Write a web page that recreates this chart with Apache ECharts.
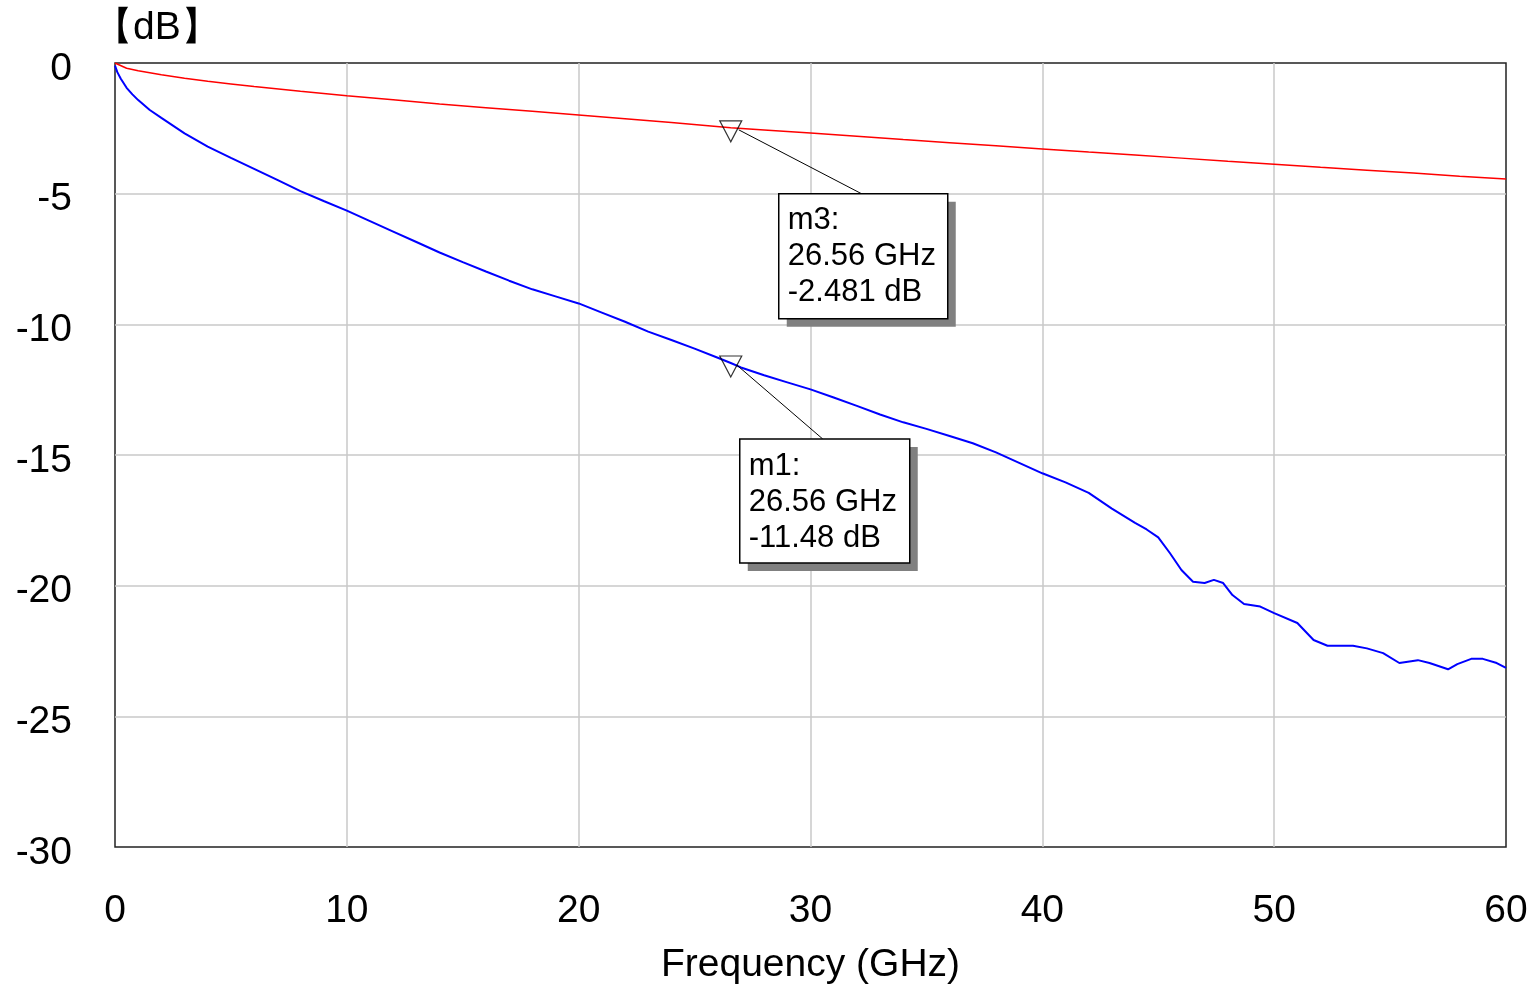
<!DOCTYPE html>
<html>
<head>
<meta charset="utf-8">
<script src="https://cdn.jsdelivr.net/npm/echarts@6/dist/echarts.min.js"></script>
<style>
html,body{margin:0;padding:0;background:#fff;}
#chart{width:1534px;height:985px;}
</style>
</head>
<body>
<div id="chart"></div>
<script>
// ---- data ----
const xTicks = [0, 10, 20, 30, 40, 50, 60];
const yTicks = [-30, -25, -20, -15, -10, -5, 0];

const redFreq = [0, 0.5, 1, 2, 3, 4, 5, 6, 8, 10, 12, 14, 16, 18, 20, 22, 24, 26.56, 28, 30, 32, 34, 36, 38, 40, 42, 44, 46, 48, 50, 52, 54, 56, 58, 60];
const redDb   = [0, -0.2, -0.3, -0.45, -0.58, -0.7, -0.8, -0.9, -1.08, -1.25, -1.41, -1.57, -1.71, -1.85, -1.99, -2.13, -2.28, -2.481, -2.56, -2.68, -2.8, -2.93, -3.05, -3.17, -3.29, -3.41, -3.52, -3.64, -3.76, -3.87, -3.99, -4.1, -4.21, -4.33, -4.44];

const blueFreq = [0, 0.1, 0.25, 0.5, 0.75, 1, 1.5, 2, 3, 4, 5, 6, 7, 8, 9, 10, 11, 12, 13, 14, 15, 16, 17, 18, 19, 20, 21, 22, 23, 24, 25, 26, 26.56, 27, 28, 29, 30, 31, 32, 33, 34, 35, 36, 37, 38, 39, 40, 41, 42, 43, 44, 44.5, 45, 45.5, 46, 46.5, 47, 47.4, 47.8, 48.2, 48.7, 49.4, 50, 51, 51.7, 52.3, 53.4, 54, 54.7, 55.4, 56.2, 56.7, 57.5, 57.9, 58.5, 59, 59.6, 60];
const blueDb   = [-0.1, -0.35, -0.6, -0.95, -1.2, -1.42, -1.8, -2.1, -2.69, -3.2, -3.63, -4.05, -4.47, -4.9, -5.28, -5.65, -6.05, -6.45, -6.85, -7.25, -7.62, -7.98, -8.33, -8.66, -8.93, -9.2, -9.55, -9.9, -10.28, -10.6, -10.93, -11.28, -11.48, -11.65, -11.95, -12.22, -12.49, -12.8, -13.12, -13.45, -13.75, -14.0, -14.27, -14.55, -14.9, -15.3, -15.7, -16.05, -16.45, -17.05, -17.6, -17.85, -18.15, -18.75, -19.4, -19.85, -19.9, -19.78, -19.9, -20.36, -20.7, -20.8, -21.05, -21.43, -22.08, -22.3, -22.3, -22.4, -22.58, -22.96, -22.85, -22.96, -23.2, -23.0, -22.8, -22.8, -22.96, -23.15];

const markerNames = ['m3', 'm1'];
const markerFreq  = [26.56, 26.56];
const markerDb    = [-2.481, -11.48];
const markerText  = ['m3:\n26.56 GHz\n-2.481 dB', 'm1:\n26.56 GHz\n-11.48 dB'];

// ---- chart ----
const FONT = '"Liberation Sans", Arial, sans-serif';
const chart = echarts.init(document.getElementById('chart'), null, {renderer: 'canvas'});

const zip = (a, b) => a.map((v, i) => [v, b[i]]);

const option = {
  animation: false,
  backgroundColor: '#fff',
  title: {
    text: '【dB】', left: 89, top: 4,
    textStyle: {fontSize: 39, fontWeight: 'normal', fontFamily: FONT, color: '#000'}
  },
  grid: {left: 115, right: 28, top: 63, bottom: 138, outerBoundsMode: 'none', containLabel: false,
         show: true, borderColor: '#222', borderWidth: 1.5, backgroundColor: '#fff'},
  xAxis: {
    type: 'value', min: xTicks[0], max: xTicks[xTicks.length - 1], interval: 10,
    axisLine: {show: false}, axisTick: {show: false},
    splitLine: {show: true, showMinLine: false, showMaxLine: false, lineStyle: {color: '#c8c8c8', width: 1.5}},
    axisLabel: {fontSize: 39, margin: 45, color: '#000', fontFamily: FONT},
    name: 'Frequency (GHz)', nameLocation: 'middle', nameGap: 99,
    nameTextStyle: {fontSize: 39, color: '#000', fontFamily: FONT}
  },
  yAxis: {
    type: 'value', min: yTicks[0], max: yTicks[yTicks.length - 1], interval: 5,
    axisLine: {show: false}, axisTick: {show: false},
    splitLine: {show: true, showMinLine: false, showMaxLine: false, lineStyle: {color: '#c8c8c8', width: 1.5}},
    axisLabel: {
      margin: 43, formatter: '{v|{value}}',
      rich: {v: {fontSize: 39, color: '#000', fontFamily: FONT, padding: [12, 0, 0, 0]}}
    }
  },
  series: [
    {type: 'line', name: 'red', data: zip(redFreq, redDb), showSymbol: false, symbol: 'none',
     lineStyle: {color: '#ff0000', width: 1.5}, z: 3},
    {type: 'line', name: 'blue', data: zip(blueFreq, blueDb), showSymbol: false, symbol: 'none',
     lineStyle: {color: '#0000ff', width: 2}, z: 3},
    {type: 'scatter', name: 'markers', data: zip(markerFreq, markerDb),
     symbol: 'triangle', symbolRotate: 180, symbolSize: [22, 21], symbolOffset: [0, 3.5],
     itemStyle: {color: 'rgba(255,255,255,0)', borderColor: '#000', borderWidth: 1.2}, z: 5}
  ]
};
chart.setOption(option);

// ---- marker annotation boxes (positioned relative to marker pixel positions) ----
const boxDefs = [
  {w: 169, h: 125, dx: 48, dy: 66, lineFrom: [8, 2], lineTo: [83, 0]},
  {w: 170, h: 124, dx: 9, dy: 76, lineFrom: [6, 2], lineTo: [83, 0]}
];
const graphics = [];
markerNames.forEach((nm, i) => {
  const p = chart.convertToPixel({gridIndex: 0}, [markerFreq[i], markerDb[i]]);
  const d = boxDefs[i];
  const left = p[0] + d.dx, top = p[1] + d.dy;
  graphics.push({
    type: 'line', z: 10,
    shape: {x1: p[0] + d.lineFrom[0], y1: p[1] + d.lineFrom[1], x2: left + d.lineTo[0], y2: top + d.lineTo[1]},
    style: {stroke: '#000', lineWidth: 1}
  });
  graphics.push({
    type: 'rect', z: 11,
    shape: {x: left + 8, y: top + 8, width: d.w, height: d.h},
    style: {fill: '#808080'}
  });
  graphics.push({
    type: 'rect', z: 12,
    shape: {x: left, y: top, width: d.w, height: d.h},
    style: {fill: '#fff', stroke: '#000', lineWidth: 1.5}
  });
  graphics.push({
    type: 'text', z: 13, x: left + 9, y: top + 9,
    style: {text: markerText[i], font: '31px ' + FONT, fill: '#000', lineHeight: 36, verticalAlign: 'top', align: 'left'}
  });
});
chart.setOption({graphic: graphics});
</script>
</body>
</html>
